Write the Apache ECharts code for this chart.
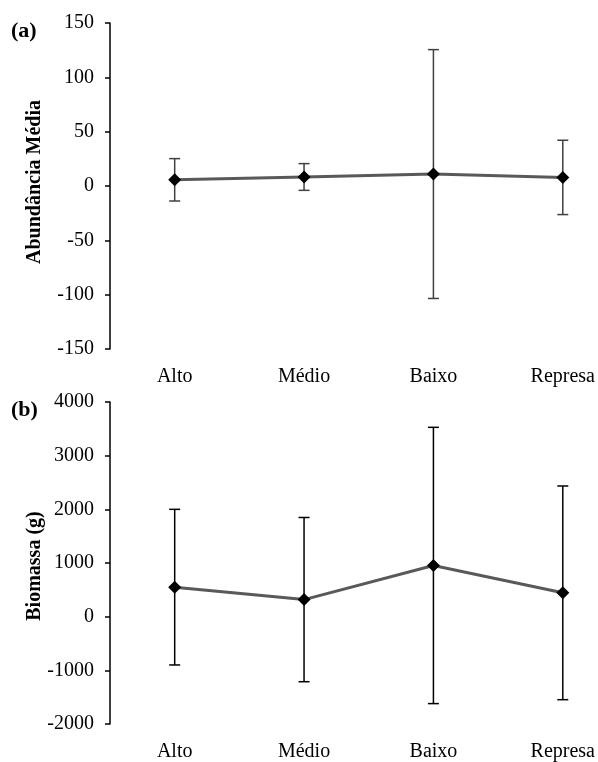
<!DOCTYPE html>
<html>
<head>
<meta charset="utf-8">
<script src="https://cdn.jsdelivr.net/npm/echarts@6/dist/echarts.min.js"></script>
<style>
  html, body { margin: 0; padding: 0; background: #fff; }
  #chart { width: 598px; height: 762px; }
</style>
</head>
<body>
<div id="chart"></div>
<script>
// Sampling sites along the river
const categories = ['Alto', 'Médio', 'Baixo', 'Represa'];

// (a) mean abundance and standard deviation
const abundMean = [5.7, 8.3, 11.0, 7.9];
const abundErr = [19.5, 12.3, 114.5, 34.2];

// (b) mean biomass (g) and standard deviation
const biomMean = [550, 318, 954, 444];
const biomErr = [1450, 1530, 2574, 1991];

// Panel tags and vertical axis titles
const panelTags = ['(a)', '(b)'];
const axisTitles = ['Abundância Média', 'Biomassa (g)'];

const serif = '"Liberation Serif", "Times New Roman", serif';
const FS = 20;
const catIdx = categories.map((c, i) => i);

function errorSeries(axisIdx, means, errs, color) {
  return {
    type: 'custom',
    xAxisIndex: axisIdx,
    yAxisIndex: axisIdx,
    z: 1,
    clip: false,
    data: means.map((m, i) => [i, m - errs[i], m + errs[i]]),
    renderItem: function (params, api) {
      const lo = api.coord([api.value(0), api.value(1)]);
      const hi = api.coord([api.value(0), api.value(2)]);
      const half = 5.5;
      const style = { stroke: color, lineWidth: 1.5 };
      return {
        type: 'group',
        children: [
          { type: 'line', shape: { x1: lo[0], y1: lo[1], x2: hi[0], y2: hi[1] }, style: style },
          { type: 'line', shape: { x1: hi[0] - half, y1: hi[1], x2: hi[0] + half, y2: hi[1] }, style: style },
          { type: 'line', shape: { x1: lo[0] - half, y1: lo[1], x2: lo[0] + half, y2: lo[1] }, style: style }
        ]
      };
    }
  };
}

function meanSeries(axisIdx, means) {
  return {
    type: 'line',
    xAxisIndex: axisIdx,
    yAxisIndex: axisIdx,
    z: 2,
    data: means.map((m, i) => [i, m]),
    symbol: 'diamond',
    symbolSize: 13,
    itemStyle: { color: '#000' },
    lineStyle: { color: '#595959', width: 3 },
    animation: false
  };
}

// Category positions on a numeric axis; each site sits in the middle of a
// unit-wide band, and the plot area runs off the right edge of the page.
function xAxis(gridIdx) {
  return {
    type: 'value',
    gridIndex: gridIdx,
    min: -0.5,
    max: 3.25,
    axisLine: { show: false },
    axisTick: { show: false },
    splitLine: { show: false },
    axisLabel: {
      color: '#000', fontFamily: serif, fontSize: FS, margin: 18,
      customValues: catIdx,
      formatter: v => categories[Math.round(v)] || ''
    }
  };
}

function yAxis(gridIdx, min, max, interval) {
  return {
    type: 'value',
    gridIndex: gridIdx,
    position: 'left',
    min: min, max: max, interval: interval,
    axisLine: { show: true, onZero: false, lineStyle: { color: '#000', width: 1.5 } },
    axisTick: { show: true, length: 5, lineStyle: { color: '#000', width: 1.5 } },
    axisLabel: { color: '#000', fontFamily: serif, fontSize: FS, margin: 16, formatter: v => String(v) },
    splitLine: { show: false }
  };
}

function rotatedTitle(text, cy) {
  return {
    type: 'text', x: 35, y: cy, rotation: Math.PI / 2,
    style: { text: text, font: 'bold 20px ' + serif, fill: '#000', align: 'center', verticalAlign: 'middle' }
  };
}

const chart = echarts.init(document.getElementById('chart'), null, { renderer: 'canvas' });
chart.setOption({
  backgroundColor: '#fff',
  animation: false,
  graphic: [
    { type: 'text', left: 11, top: 20, style: { text: panelTags[0], font: 'bold 22px ' + serif, fill: '#000' } },
    { type: 'text', left: 11, top: 399, style: { text: panelTags[1], font: 'bold 22px ' + serif, fill: '#000' } },
    rotatedTitle(axisTitles[0], 182),
    rotatedTitle(axisTitles[1], 566)
  ],
  grid: [
    { left: 110, top: 23, right: 0, height: 326 },
    { left: 110, top: 402, right: 0, height: 327 }
  ],
  xAxis: [xAxis(0), xAxis(1)],
  yAxis: [
    yAxis(0, -150, 150, 50),
    yAxis(1, -2000, 4000, 1000)
  ],
  series: [
    errorSeries(0, abundMean, abundErr, '#404040'),
    meanSeries(0, abundMean),
    errorSeries(1, biomMean, biomErr, '#000'),
    meanSeries(1, biomMean)
  ]
});
</script>
</body>
</html>
